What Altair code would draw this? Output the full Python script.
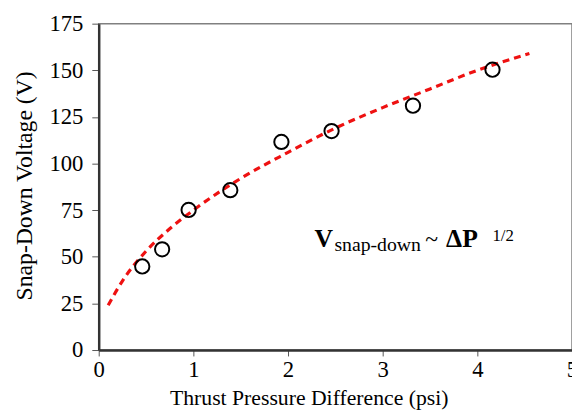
import altair as alt
import pandas as pd

# measured data points
pressure = [0.46, 0.67, 0.95, 1.39, 1.93, 2.46, 3.32, 4.16]
voltage = [44.8, 54.0, 75.1, 85.7, 111.6, 117.4, 131.0, 150.3]

# dashed trend curve
fit_x = [0.10, 0.25, 0.50, 0.75, 1.00, 1.50, 2.00, 2.50, 3.00, 3.50, 4.00, 4.55]
fit_y = [24.0, 37.0, 53.0, 65.0, 75.0, 92.0, 106.0, 119.0, 130.0, 140.0, 150.0, 159.0]

x_ticks = [0, 1, 2, 3, 4, 5]
y_ticks = [0, 25, 50, 75, 100, 125, 150, 175]

# annotation pieces
ann_text = ["V", "snap-down", "~", "ΔP", "1/2"]
ann_x = [2.28, 2.49, 3.45, 3.67, 4.16]
ann_y = [55.5, 52.9, 55.5, 55.5, 58.5]
ann_size = [26, 20, 24, 26, 17]
ann_weight = ["bold", "normal", "normal", "bold", "normal"]

pts = pd.DataFrame({"x": pressure, "y": voltage})
fit = pd.DataFrame({"x": fit_x, "y": fit_y})
ann = pd.DataFrame({"t": ann_text, "x": ann_x, "y": ann_y})

FONT = "Liberation Serif"

xscale = alt.Scale(domain=[0, 5], nice=False, zero=False)
yscale = alt.Scale(domain=[0, 175], nice=False)

xaxis = alt.Axis(
    values=x_ticks, format="d", title="Thrust Pressure Difference (psi)", grid=False,
    tickSize=6, labelPadding=3, labelFontSize=23, titleFontSize=22,
    titleX=213, titleY=55, titleBaseline="alphabetic", titleFontWeight="normal",
    labelFlush=False, labelOverlap=False,
)
yaxis = alt.Axis(
    values=y_ticks, format="d", title="Snap-Down Voltage (V)", grid=False,
    tickSize=7, labelPadding=9, labelFontSize=23, titleFontSize=24,
    titleX=-68, titleY=164, titleBaseline="alphabetic", titleFontWeight="normal",
    titleAngle=-90, labelFlush=False, labelOverlap=False,
)

line = alt.Chart(fit).mark_line(
    color="#ee1111", strokeWidth=3.2, strokeDash=[7, 5], interpolate="monotone"
).encode(
    x=alt.X("x:Q", scale=xscale, axis=xaxis),
    y=alt.Y("y:Q", scale=yscale, axis=yaxis),
)

points = alt.Chart(pts).mark_point(
    shape="circle", filled=False, color="black", size=210, strokeWidth=2, opacity=1
).encode(x=alt.X("x:Q", scale=xscale), y=alt.Y("y:Q", scale=yscale))

layers = [line, points]
for i in range(len(ann_text)):
    sub = ann.iloc[[i]]
    layers.append(
        alt.Chart(sub).mark_text(
            align="left", baseline="alphabetic", font=FONT,
            fontSize=ann_size[i], fontWeight=ann_weight[i], color="black",
        ).encode(x=alt.X("x:Q", scale=xscale), y=alt.Y("y:Q", scale=yscale), text="t:N")
    )

chart = alt.layer(*layers).properties(
    width=480, height=331,
    autosize=alt.AutoSizeParams(type="none"),
    padding={"left": 92, "top": 13, "right": 0, "bottom": 63},
).configure_view(
    stroke="#808080", strokeWidth=1.5
).configure_axis(
    labelFont=FONT, titleFont=FONT, labelColor="black", titleColor="black",
    domainColor="#333333", domainWidth=2.5, tickColor="#555555", tickWidth=1,
)

chart.save("out.html", embed_options={"renderer": "svg", "actions": False})
